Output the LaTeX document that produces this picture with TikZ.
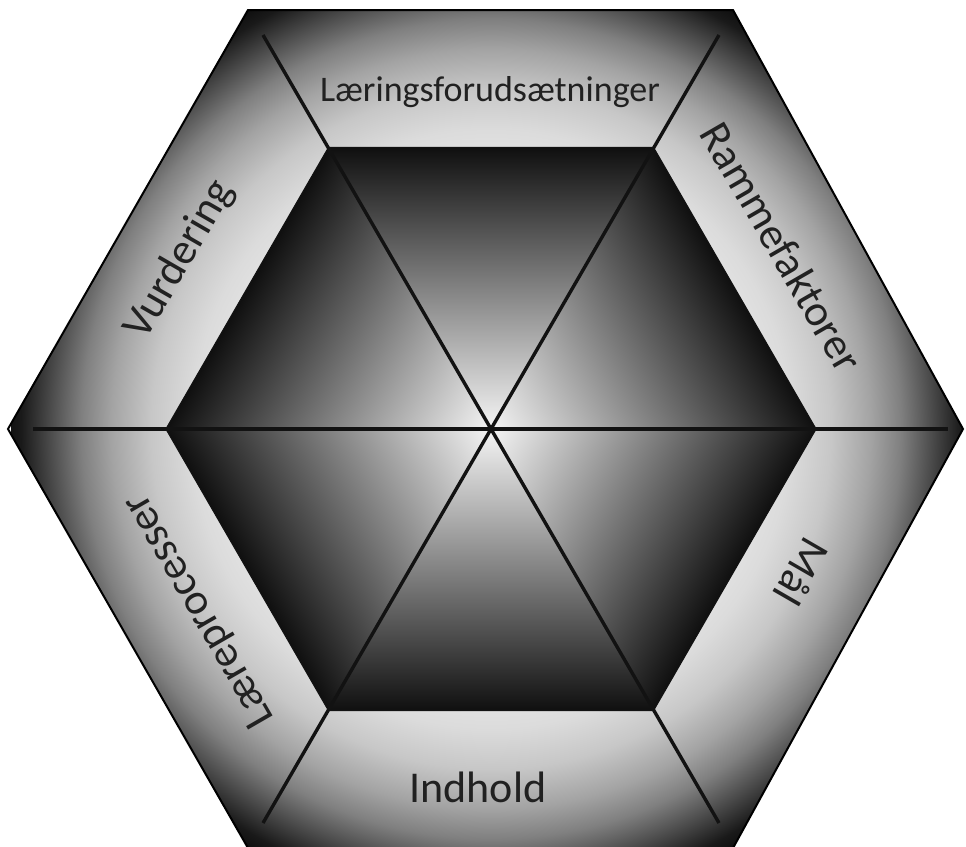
\documentclass[tikz,border=0pt]{standalone}
\usepackage{fontspec}
\setmainfont{Carlito}
\definecolor{r0}{gray}{0.90}
\definecolor{r1}{gray}{0.86}
\definecolor{r2}{gray}{0.78}
\definecolor{r3}{gray}{0.64}
\definecolor{r4}{gray}{0.50}
\definecolor{r5}{gray}{0.30}
\definecolor{r6}{gray}{0.10}
\definecolor{r7}{gray}{0.04}
\definecolor{linecol}{gray}{0.07}
\definecolor{textcol}{gray}{0.13}
\pgfdeclareradialshading{ringshade}{\pgfpointorigin}{%
  color(0bp)=(r0); color(13.54bp)=(r0); color(15.63bp)=(r1); color(17.71bp)=(r2);
  color(19.79bp)=(r3); color(21.35bp)=(r4); color(22.92bp)=(r5); color(24.48bp)=(r6);
  color(25.52bp)=(r7); color(50bp)=(r7)}
\pgfdeclarefunctionalshading{innershade}{\pgfpoint{-50bp}{-50bp}}{\pgfpoint{50bp}{50bp}}{}{
  exch 0.866 mul exch 0.5 mul
  2 copy add abs 3 1 roll
  2 copy sub abs exch 2 mul abs
  3 -1 roll pop
  2 copy lt {exch} if pop
  2 copy lt {exch} if pop
  21.59 div 0.9 mul 0.96 exch sub
  dup 0.05 lt {pop 0.05} if
  dup dup
}
\tikzset{
  divider/.style={line width=3.4pt, draw=linecol},
  lbl/.style={text=textcol, inner sep=0pt, font=\fontsize{44}{50}\selectfont},
}
\begin{document}
\begin{tikzpicture}[x=1pt,y=-1pt]
\useasboundingbox (0,0) rectangle (966,846);
\clip (0,0) rectangle (966,846);
\coordinate (C) at (491,429);
\coordinate (O1) at (248,10);
\coordinate (O2) at (733,10);
\coordinate (O3) at (963,429);
\coordinate (O4) at (733,848);
\coordinate (O5) at (248,848);
\coordinate (O6) at (8,429);
\coordinate (I1) at (328.5,147.5);
\coordinate (I2) at (653.5,147.5);
\coordinate (I3) at (816,429);
\coordinate (I4) at (653.5,710.5);
\coordinate (I5) at (328.5,710.5);
\coordinate (I6) at (166,429);
% ring
\begin{scope}
  \clip (O1)--(O2)--(O3)--(O4)--(O5)--(O6)--cycle;
  \shade[shading=ringshade] (11,-51) rectangle (971,909);
\end{scope}
% inner hexagon
\begin{scope}
  \clip (I1)--(I2)--(I3)--(I4)--(I5)--(I6)--cycle;
  \shade[shading=innershade] (165,103) rectangle (817,755);
\end{scope}
\draw[line width=1.2pt, draw=linecol] (I1)--(I2)--(I3)--(I4)--(I5)--(I6)--cycle;
\draw[line width=2pt, draw=black] (O1)--(O2)--(O3)--(O4)--(O5)--(O6)--cycle;
% dividers
\coordinate (hL) at (33,429);
\coordinate (hR) at (948,429);
\coordinate (d1a) at (263,35);
\coordinate (d1b) at (719,823);
\coordinate (d2a) at (719,35);
\coordinate (d2b) at (263,823);
\draw[divider] (hL) -- (hR);
\draw[divider] (d1a) -- (d1b);
\draw[divider] (d2a) -- (d2b);
% labels
\node[lbl, font=\fontsize{36}{42}\selectfont] (t1) at (490,92) {Læringsforudsætninger};
\node[lbl, rotate=-60] (t2) at (782,247) {Rammefaktorer};
\node[lbl, rotate=-120] (t3) at (802,572) {Mål};
\node[lbl] (t4) at (478,787) {Indhold};
\node[lbl, rotate=120] (t5) at (200,610) {Læreprocesser};
\node[lbl, rotate=60] (t6) at (180,260) {Vurdering};
\end{tikzpicture}
\end{document}
